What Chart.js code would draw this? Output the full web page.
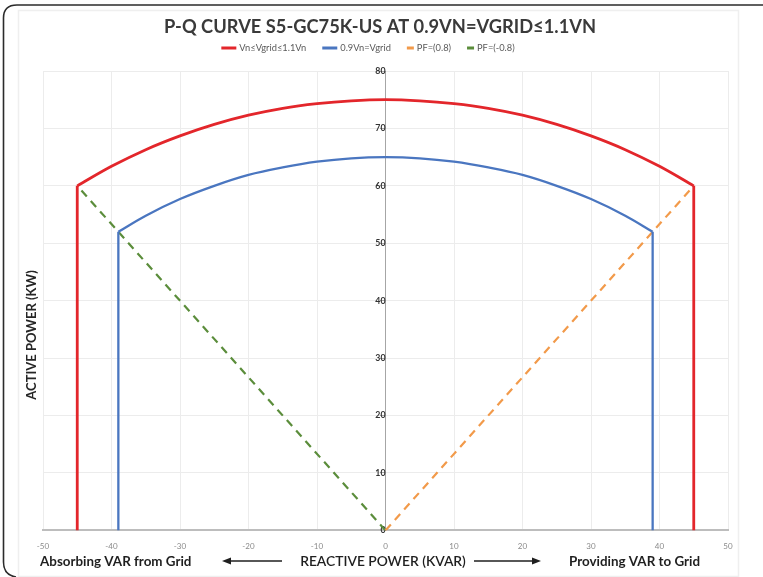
<!DOCTYPE html>
<html>
<head>
<meta charset="utf-8">
<script src="https://cdn.jsdelivr.net/npm/chart.js@4.4.1/dist/chart.umd.min.js"></script>
<style>
html,body{margin:0;padding:0;background:#fff;}
#wrap{position:relative;width:763px;height:577px;}
canvas{display:block;}
</style>
</head>
<body>
<div id="wrap"><canvas id="c" width="763" height="577"></canvas></div>
<script>
// ---- data ----
const chartTitle = "P-Q CURVE S5-GC75K-US AT 0.9VN=VGRID\u22641.1VN";
const seriesNames = ["Vn\u2264Vgrid\u22641.1Vn", "0.9Vn=Vgrid", "PF=(0.8)", "PF=(-0.8)"];
// outer curve (Vn<=Vgrid<=1.1Vn), reactive power Q (kVAR) and active power P (kW)
const qOuter = [-45,-40,-35,-30,-25,-20,-15,-10,-5,0,5,10,15,20,25,30,35,40,45];
const pOuter = [60,63.4,66.3,68.7,70.7,72.3,73.5,74.3,74.8,75,74.8,74.3,73.5,72.3,70.7,68.7,66.3,63.4,60];
const qOuterLegs = [-45, 45];
const pOuterLegTop = 60;
// inner curve (0.9Vn=Vgrid)
const qInner = [-39,-35,-30,-25,-20,-15,-10,-5,0,5,10,15,20,25,30,35,39];
const pInner = [52,54.8,57.7,60,61.9,63.2,64.2,64.8,65,64.8,64.2,63.2,61.9,60,57.7,54.8,52];
const qInnerLegs = [-39, 39];
const pInnerLegTop = 52;
// power factor lines
const qPF08 = [0, 45];
const pPF08 = [0, 60];
const qPFm08 = [0, -45];
const pPFm08 = [0, 60];
// axes
const xTicks = [-50,-40,-30,-20,-10,0,10,20,30,40,50];
const yTicks = [0,10,20,30,40,50,60,70,80];
const xTitle = "REACTIVE POWER (KVAR)";
const yTitle = "ACTIVE POWER (KW)";
const leftNote = "Absorbing VAR from Grid";
const rightNote = "Providing VAR to Grid";

const RED = "#e3262b", BLUE = "#4a76c0", ORANGE = "#f29a4a", GREEN = "#5b8d3b";
const FONT = "Lato, 'Open Sans', sans-serif";

function pts(xs, ys){ return xs.map((x,i)=>({x:x, y:ys[i]})); }
function leg(x, top){ return [{x:x,y:0},{x:x,y:top}]; }

const datasets = [
  {label: seriesNames[0], data: pts(qOuter,pOuter), borderColor: RED, borderWidth: 2.8, tension: 0.35},
  {label: "_", data: leg(qOuterLegs[0], pOuterLegTop), borderColor: RED, borderWidth: 2.8},
  {label: "_", data: leg(qOuterLegs[1], pOuterLegTop), borderColor: RED, borderWidth: 2.8},
  {label: seriesNames[1], data: pts(qInner,pInner), borderColor: BLUE, borderWidth: 2.3, tension: 0.35},
  {label: "_", data: leg(qInnerLegs[0], pInnerLegTop), borderColor: BLUE, borderWidth: 2.3},
  {label: "_", data: leg(qInnerLegs[1], pInnerLegTop), borderColor: BLUE, borderWidth: 2.3},
  {label: seriesNames[2], data: pts(qPF08,pPF08), borderColor: ORANGE, borderWidth: 2.2, borderDash:[8,6], dashed: true},
  {label: seriesNames[3], data: pts(qPFm08,pPFm08), borderColor: GREEN, borderWidth: 2.2, borderDash:[8,6], dashed: true}
];
datasets.forEach(d=>{ d.pointRadius = 0; d.fill = false; d.showLine = true; d.backgroundColor = d.borderColor; });

const framePlugin = {
  id: 'frame',
  beforeDraw(chart){
    const c = chart.ctx;
    c.save();
    c.fillStyle = '#fff';
    c.fillRect(0,0,chart.width,chart.height);
    c.strokeStyle = '#efefef';
    c.lineWidth = 1.5;
    c.strokeRect(18.5,10.5,720,566);
    c.strokeStyle = '#2b2b2b';
    c.lineWidth = 1.6;
    c.beginPath();
    c.moveTo(16, 577);
    c.quadraticCurveTo(3.5, 575, 3.5, 562);
    c.lineTo(3.5, 18);
    c.quadraticCurveTo(3.5, 5, 17, 5);
    c.lineTo(763, 5);
    c.stroke();
    c.restore();
  },
  afterDraw(chart){
    const c = chart.ctx;
    // title
    c.save();
    c.fillStyle = '#3a3a3a';
    c.font = "bold 18.3px " + FONT;
    c.textAlign = 'center';
    c.textBaseline = 'middle';
    c.fillText(chartTitle, 380, 27);
    c.restore();

    // legend (series drawn from the datasets)
    c.save();
    c.font = "9.3px " + FONT;
    c.textBaseline = 'middle';
    c.textAlign = 'left';
    const items = chart.data.datasets.filter(d => d.label !== '_');
    const gapMark = 3, gapItem = 16;
    const widths = items.map(d => (d.dashed ? 7 : 15) + gapMark + c.measureText(d.label).width);
    const total = widths.reduce((a,b)=>a+b,0) + gapItem*(items.length-1);
    let x = 368 - total/2;
    const y = 48;
    items.forEach((d,i) => {
      const mw = d.dashed ? 7 : 15;
      c.fillStyle = d.borderColor;
      c.fillRect(x, y-1.5, mw, 3);
      c.fillStyle = '#595959';
      c.fillText(d.label, x + mw + gapMark, y);
      x += widths[i] + gapItem;
    });
    c.restore();

    // y axis title
    c.save();
    c.fillStyle = '#262626';
    c.translate(32, 335);
    c.rotate(-Math.PI/2);
    c.font = "bold 13px " + FONT;
    c.textAlign = 'center';
    c.textBaseline = 'middle';
    c.fillText(yTitle, 0, 0);
    c.restore();

    // bottom texts and arrows
    c.save();
    c.fillStyle = '#1f1f1f';
    c.textBaseline = 'middle';
    c.font = "bold 13.4px " + FONT;
    c.textAlign = 'left';
    c.fillText(leftNote, 40, 562);
    c.textAlign = 'right';
    c.fillText(rightNote, 700, 562);
    c.font = "600 13.8px " + FONT;
    c.textAlign = 'center';
    c.fillText(xTitle, 383, 562);
    c.strokeStyle = '#1f1f1f';
    c.lineWidth = 1.5;
    c.beginPath(); c.moveTo(229, 561); c.lineTo(282, 561); c.stroke();
    c.beginPath(); c.moveTo(222, 561); c.lineTo(231, 557.5); c.lineTo(231, 564.5); c.closePath(); c.fill();
    c.beginPath(); c.moveTo(474, 561); c.lineTo(533, 561); c.stroke();
    c.beginPath(); c.moveTo(541, 561); c.lineTo(532, 557.5); c.lineTo(532, 564.5); c.closePath(); c.fill();
    c.restore();
  }
};

new Chart(document.getElementById('c'), {
  type: 'scatter',
  data: { datasets: datasets },
  plugins: [framePlugin],
  options: {
    responsive: false,
    animation: false,
    layout: { padding: { left: 43, right: 35, top: 71, bottom: 15 } },
    plugins: {
      title: { display: false },
      legend: { display: false },
      tooltip: { enabled: false }
    },
    scales: {
      x: {
        type: 'linear', min: -50, max: 50,
        afterBuildTicks: (s) => { s.ticks = xTicks.map(v=>({value:v})); },
        ticks: { color: '#8a8a8a', font: { family: FONT, size: 8 }, padding: 11 },
        grid: { color: '#ececec', drawTicks: false },
        border: { color: '#bdbdbd', width: 2 }
      },
      y: {
        type: 'linear', min: 0, max: 80, position: { x: 0 },
        afterBuildTicks: (s) => { s.ticks = yTicks.map(v=>({value:v})); },
        ticks: { color: '#333333', font: { family: FONT, size: 8.8, weight: 'bold' }, padding: 4 },
        grid: { color: '#ececec', tickLength: 5, tickColor: '#a6a6a6' },
        border: { color: '#a6a6a6', width: 1 }
      }
    }
  }
});
</script>
</body>
</html>
